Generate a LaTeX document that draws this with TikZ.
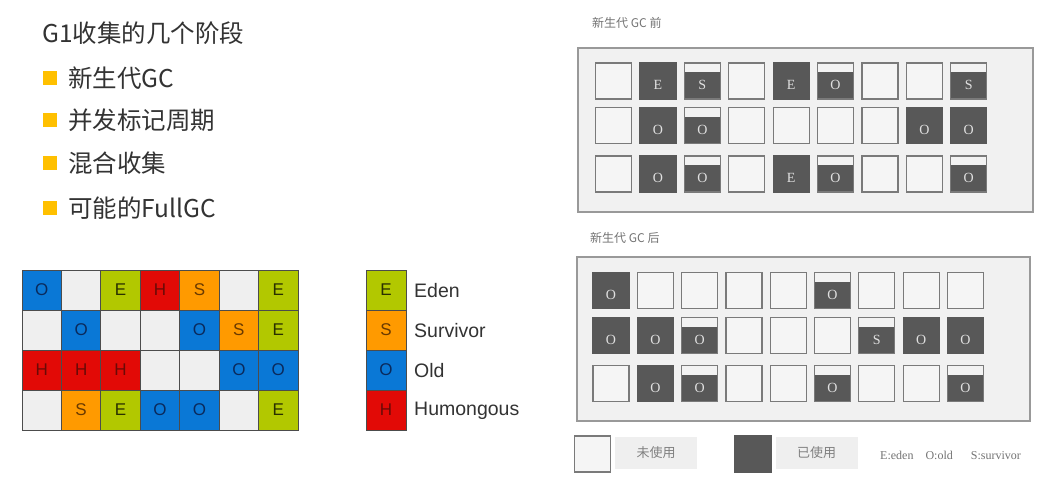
\documentclass[tikz,border=0pt]{standalone}
\usepackage{fontspec}
\setmainfont{Liberation Serif}
\newfontfamily\cjk{Noto Sans CJK SC}
\newfontfamily\arial{Liberation Sans}
\definecolor{gblue}{HTML}{0A78D6}
\definecolor{ggreen}{HTML}{B2C800}
\definecolor{gred}{HTML}{E20A06}
\definecolor{gorange}{HTML}{FF9A00}
\definecolor{gempty}{HTML}{EFEFEF}
\definecolor{tblue}{HTML}{0A2A5C}
\definecolor{tgreen}{HTML}{2A3000}
\definecolor{tred}{HTML}{6A0A06}
\definecolor{torange}{HTML}{6A3A00}
\definecolor{bullet}{HTML}{FFC000}
\definecolor{txt}{HTML}{333333}
\definecolor{panel}{HTML}{F1F1F1}
\definecolor{used}{HTML}{585858}
\definecolor{grayline}{HTML}{7A7A7A}
\newcommand\celltxt[1]{\if N#1\else #1\fi}
\begin{document}
\begin{tikzpicture}[x=1pt,y=-1pt,
  cell/.style={draw=black!70, line width=0.8pt, minimum width=39.43pt, minimum height=40pt, inner sep=0pt, font=\arial\fontsize{17}{17}\selectfont},
  cellO/.style={fill=gblue, text=tblue},
  cellE/.style={fill=ggreen, text=tgreen},
  cellH/.style={fill=gred, text=tred},
  cellS/.style={fill=gorange, text=torange},
  cellN/.style={fill=gempty},
  legtext/.style={anchor=west, font=\arial\fontsize{19.5}{19.5}\selectfont, text=txt, inner sep=0pt},
  bul/.style={fill=bullet, minimum size=14pt, inner sep=0pt},
  bultext/.style={anchor=west, font=\cjk\fontsize{24.5}{24.5}\selectfont, text=txt, inner sep=0pt},
  rbox/.style={minimum size=36pt, inner sep=0pt, line width=1.2pt},
  rboxn/.style={rbox, draw=grayline, fill=white!96!black},
  rboxf/.style={rbox, draw=used, fill=used},
  rboxp/.style={rbox, draw=grayline, fill=used, path picture={\fill[white!95!black] ([xshift=0.6pt,yshift=-0.6pt]path picture bounding box.north west) rectangle ([xshift=-0.6pt,yshift=-9pt]path picture bounding box.north east);}},
  rlet/.style={font=\fontsize{14}{14}\selectfont, text=white!88!black, inner sep=0pt},
  frame/.style={draw=black!40, line width=1.5pt, fill=panel},
  ptitle/.style={anchor=west, font=\cjk\fontsize{12}{12}\selectfont, text=black!55, inner sep=0pt},
  keylbl/.style={fill=gempty, minimum width=82pt, minimum height=32pt, inner sep=0pt, font=\cjk\fontsize{13}{13}\selectfont, text=black!50}
]
\useasboundingbox[fill=white] (0,0) rectangle (1063,485);

% left text
\node[bultext, anchor=west] (title) at (42,33) {G1收集的几个阶段};
\node[bul] (b1) at (50,78) {};
\node[bultext] (t1) at (68,78) {新生代GC};
\node[bul] (b2) at (50,120) {};
\node[bultext] (t2) at (68,120) {并发标记周期};
\node[bul] (b3) at (50,163) {};
\node[bultext] (t3) at (68,163) {混合收集};
\node[bul] (b4) at (50,208) {};
\node[bultext] (t4) at (68,208) {可能的FullGC};

% colored region grid
\foreach \row [count=\r from 0] in {{O,N,E,H,S,N,E},{N,O,N,N,O,S,E},{H,H,H,N,N,O,O},{N,S,E,O,O,N,E}} {
  \foreach \t [count=\c from 0] in \row {
    \node[cell, cell\t] (g-\r-\c) at ({22+39.43*\c+19.71},{270+40*\r+20}) {\celltxt{\t}};
  }
}

% legend
\node[cell, minimum width=40pt, cellE] (lE) at (386,290) {E};
\node[cell, minimum width=40pt, cellS] (lS) at (386,330) {S};
\node[cell, minimum width=40pt, cellO] (lO) at (386,370) {O};
\node[cell, minimum width=40pt, cellH] (lH) at (386,410) {H};
\node[legtext] (leden) at (414,291) {Eden};
\node[legtext] (lsurv) at (414,331) {Survivor};
\node[legtext] (lold) at (414,371) {Old};
\node[legtext] (lhum) at (414,411) {Humongous};

% right top panel
\node[ptitle] (pt1) at (592,23) {新生代 GC 前};
\node[frame, minimum width=455pt, minimum height=164pt, inner sep=0pt] (f1) at (805.5,130) {};
\foreach \row [count=\r from 0] in {{n/,f/E,p/S,n/,f/E,p/O,n/,n/,p/S},{n/,f/O,p/O,n/,n/,n/,n/,f/O,f/O},{n/,f/O,p/O,n/,f/E,p/O,n/,n/,p/O}} {
  \foreach \t/\l [count=\c from 0] in \row {
    \pgfmathsetmacro{\cy}{\r==0 ? 81 : (\r==1 ? 125.5 : 174)}
    \node[rbox\t] (a-\r-\c) at ({613.5+44.4*\c},\cy) {};
    \node[rlet] (al-\r-\c) at ([yshift=-4pt]a-\r-\c.center) {\l};
  }
}

% right bottom panel
\node[ptitle] (pt2) at (590,238) {新生代 GC 后};
\node[frame, minimum width=453pt, minimum height=164pt, inner sep=0pt] (f2) at (803.5,339) {};
\foreach \row [count=\r from 0] in {{f/O,n/,n/,n/,n/,p/O,n/,n/,n/},{f/O,f/O,p/O,n/,n/,n/,p/S,f/O,f/O},{n/,f/O,p/O,n/,n/,p/O,n/,n/,p/O}} {
  \foreach \t/\l [count=\c from 0] in \row {
    \pgfmathsetmacro{\cy}{\r==0 ? 290.5 : (\r==1 ? 335.5 : 383.5)}
    \node[rbox\t] (b-\r-\c) at ({611+44.3*\c},\cy) {};
    \node[rlet] (bl-\r-\c) at ([yshift=-4pt]b-\r-\c.center) {\l};
  }
}

% bottom key
\node[rboxn] (kn) at (592.5,454) {};
\node[keylbl] (knl) at (656,453) {未使用};
\node[rboxf] (kf) at (753,454) {};
\node[keylbl] (kfl) at (816.5,453) {已使用};
\node[anchor=west, font=\fontsize{12}{12}\selectfont, text=black!55, inner sep=0pt] (kt) at (880,455) {E:eden\hspace{12pt}O:old\hspace{18pt}S:survivor};
\end{tikzpicture}
\end{document}
